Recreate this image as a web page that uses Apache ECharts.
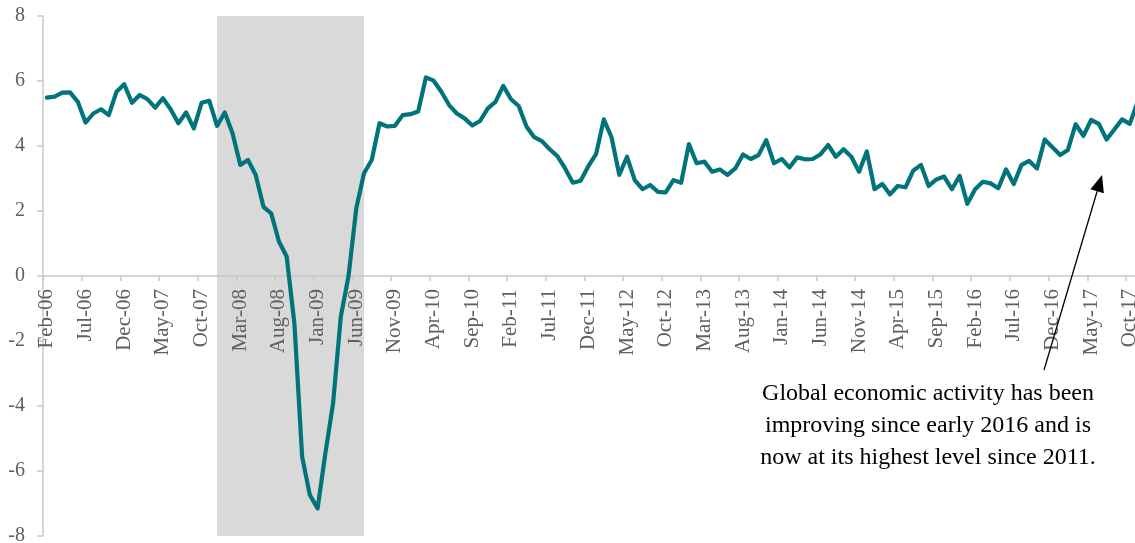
<!DOCTYPE html>
<html>
<head>
<meta charset="utf-8">
<script src="https://cdn.jsdelivr.net/npm/echarts@6/dist/echarts.min.js"></script>
<style>
html,body{margin:0;padding:0;background:#fff;}
#chart{width:1135px;height:543px;}
</style>
</head>
<body>
<div id="chart"></div>
<script>
const months = [
 'Feb-06','Mar-06','Apr-06','May-06','Jun-06','Jul-06','Aug-06','Sep-06','Oct-06','Nov-06','Dec-06',
 'Jan-07','Feb-07','Mar-07','Apr-07','May-07','Jun-07','Jul-07','Aug-07','Sep-07','Oct-07','Nov-07','Dec-07',
 'Jan-08','Feb-08','Mar-08','Apr-08','May-08','Jun-08','Jul-08','Aug-08','Sep-08','Oct-08','Nov-08','Dec-08',
 'Jan-09','Feb-09','Mar-09','Apr-09','May-09','Jun-09','Jul-09','Aug-09','Sep-09','Oct-09','Nov-09','Dec-09',
 'Jan-10','Feb-10','Mar-10','Apr-10','May-10','Jun-10','Jul-10','Aug-10','Sep-10','Oct-10','Nov-10','Dec-10',
 'Jan-11','Feb-11','Mar-11','Apr-11','May-11','Jun-11','Jul-11','Aug-11','Sep-11','Oct-11','Nov-11','Dec-11',
 'Jan-12','Feb-12','Mar-12','Apr-12','May-12','Jun-12','Jul-12','Aug-12','Sep-12','Oct-12','Nov-12','Dec-12',
 'Jan-13','Feb-13','Mar-13','Apr-13','May-13','Jun-13','Jul-13','Aug-13','Sep-13','Oct-13','Nov-13','Dec-13',
 'Jan-14','Feb-14','Mar-14','Apr-14','May-14','Jun-14','Jul-14','Aug-14','Sep-14','Oct-14','Nov-14','Dec-14',
 'Jan-15','Feb-15','Mar-15','Apr-15','May-15','Jun-15','Jul-15','Aug-15','Sep-15','Oct-15','Nov-15','Dec-15',
 'Jan-16','Feb-16','Mar-16','Apr-16','May-16','Jun-16','Jul-16','Aug-16','Sep-16','Oct-16','Nov-16','Dec-16',
 'Jan-17','Feb-17','Mar-17','Apr-17','May-17','Jun-17','Jul-17','Aug-17','Sep-17','Oct-17','Nov-17'
];

const activity = [
 5.49,5.52,5.64,5.65,5.36,4.72,5.00,5.13,4.95,5.67,5.90,
 5.33,5.57,5.44,5.18,5.47,5.13,4.70,5.03,4.54,5.33,5.39,4.62,
 5.03,4.39,3.42,3.57,3.11,2.13,1.93,1.06,0.60,-1.46,-5.56,-6.74,
 -7.15,-5.46,-3.92,-1.25,0.00,2.08,3.16,3.57,4.70,4.60,4.62,4.95,
 4.98,5.06,6.11,6.01,5.67,5.26,5.00,4.85,4.63,4.77,5.16,5.36,
 5.85,5.44,5.23,4.60,4.27,4.15,3.90,3.69,3.31,2.87,2.93,3.38,
 3.75,4.82,4.27,3.11,3.67,2.95,2.67,2.80,2.59,2.57,2.95,2.87,
 4.06,3.47,3.52,3.21,3.28,3.11,3.31,3.74,3.60,3.72,4.18,3.47,
 3.60,3.34,3.65,3.59,3.60,3.74,4.03,3.67,3.90,3.67,3.21,3.83,
 2.67,2.83,2.51,2.77,2.73,3.24,3.42,2.77,2.97,3.06,2.67,3.08,
 2.22,2.67,2.90,2.85,2.70,3.28,2.83,3.42,3.54,3.31,4.20,3.96,
 3.72,3.88,4.67,4.31,4.80,4.68,4.20,4.51,4.82,4.68,5.35
];

const recession = ['Dec-07', 'Jul-09'];
const yTicks = [-8, 8, 2];
const noteLines = [
 'Global economic activity has been',
 'improving since early 2016 and is',
 'now at its highest level since 2011.'
];

const chart = echarts.init(document.getElementById('chart'), null, {renderer: 'canvas'});
const labelFont = 'Liberation Serif';

// plot box
const G = {left: 43, top: 16, width: 1098.4, height: 520};
// x axis sits at value 0 -> offset from the bottom of the plot
const zeroOffset = -G.height * (0 - yTicks[0]) / (yTicks[1] - yTicks[0]);

// arrow geometry (annotation)
const a0 = [1044, 370], a1 = [1102, 175];
const dx = a1[0]-a0[0], dy = a1[1]-a0[1], L = Math.hypot(dx, dy);
const ux = dx/L, uy = dy/L, hl = 17, hw = 7;
const bx = a1[0]-ux*hl, by = a1[1]-uy*hl;

chart.setOption({
  animation: false,
  backgroundColor: '#ffffff',
  grid: {left: G.left, top: G.top, width: G.width, height: G.height, containLabel: false, outerBoundsMode: 'none'},
  xAxis: {
    type: 'category',
    data: months,
    boundaryGap: true,
    position: 'bottom',
    offset: zeroOffset,
    z: 2,
    axisLine: {onZero: false, lineStyle: {color: '#c8c8c8', width: 1.5}},
    axisTick: {show: true, length: 5, interval: 4, lineStyle: {color: '#c8c8c8', width: 1.5}},
    axisLabel: {interval: 4, rotate: 90, margin: 13, color: '#5f5f5f', fontFamily: labelFont, fontSize: 21},
    splitLine: {show: false}
  },
  yAxis: {
    type: 'value',
    min: yTicks[0], max: yTicks[1], interval: yTicks[2],
    z: 2,
    axisLine: {show: true, lineStyle: {color: '#c8c8c8', width: 1.5}},
    axisTick: {show: true, length: 6, lineStyle: {color: '#c8c8c8', width: 1.5}},
    axisLabel: {color: '#5f5f5f', fontFamily: labelFont, fontSize: 20, margin: 18},
    splitLine: {show: false}
  },
  series: [
    {
      type: 'line', data: [], z: 1, silent: true,
      markArea: {
        silent: true,
        itemStyle: {color: '#d9d9d9'},
        data: [[{xAxis: recession[0]}, {xAxis: recession[1]}]]
      }
    },
    {
      type: 'line',
      data: activity,
      z: 3,
      symbol: 'none',
      smooth: false,
      lineStyle: {color: '#00737b', width: 4.2, join: 'round', cap: 'round'}
    }
  ],
  graphic: [
    {type: 'line', z: 10, shape: {x1: a0[0], y1: a0[1], x2: bx, y2: by}, style: {stroke: '#000', lineWidth: 1.3}},
    {type: 'polygon', z: 10, shape: {points: [[a1[0], a1[1]], [bx - uy*hw, by + ux*hw], [bx + uy*hw, by - ux*hw]]}, style: {fill: '#000'}},
    {type: 'text', z: 10, left: 928 - 200, top: 378,
     style: {text: noteLines.join('\n'), width: 400, align: 'center', textAlign: 'center', x: 200, font: '24px "Liberation Serif"', fill: '#000', lineHeight: 32}}
  ]
});
</script>
</body>
</html>
